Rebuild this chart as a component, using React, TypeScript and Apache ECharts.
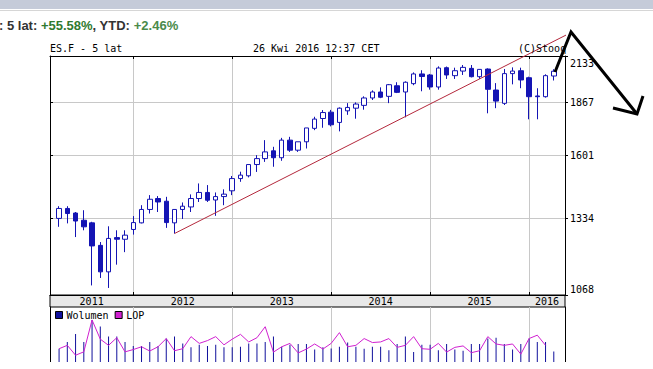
import React, { useEffect, useRef } from 'react';
import * as echarts from 'echarts';

// ---- data (monthly candles, ES.F, 5 years) ----
const months = [
  '2011-04', '2011-05', '2011-06', '2011-07', '2011-08', '2011-09', '2011-10', '2011-11', '2011-12',
  '2012-01', '2012-02', '2012-03', '2012-04', '2012-05', '2012-06', '2012-07', '2012-08', '2012-09', '2012-10', '2012-11', '2012-12',
  '2013-01', '2013-02', '2013-03', '2013-04', '2013-05', '2013-06', '2013-07', '2013-08', '2013-09', '2013-10', '2013-11', '2013-12',
  '2014-01', '2014-02', '2014-03', '2014-04', '2014-05', '2014-06', '2014-07', '2014-08', '2014-09', '2014-10', '2014-11', '2014-12',
  '2015-01', '2015-02', '2015-03', '2015-04', '2015-05', '2015-06', '2015-07', '2015-08', '2015-09', '2015-10', '2015-11', '2015-12',
  '2016-01', '2016-02', '2016-03', '2016-04',
];
const opens = [
  1333, 1372, 1354, 1326, 1316, 1233, 1142, 1261, 1255,
  1291, 1316, 1368, 1412, 1401, 1316, 1368, 1378, 1412, 1437, 1406, 1420,
  1444, 1496, 1508, 1558, 1585, 1621, 1589, 1672, 1624, 1664, 1730, 1780,
  1813, 1760, 1820, 1834, 1849, 1889, 1922, 1898, 1957, 1922, 1969, 2025,
  2019, 1950, 2062, 2015, 2042, 2058, 2009, 2054, 1933, 1860, 2027, 2044,
  2003, 1900, 1896, 2013,
];
const closes = [
  1372, 1352, 1323, 1301, 1231, 1142, 1258, 1255, 1270,
  1317, 1368, 1409, 1398, 1317, 1368, 1381, 1412, 1437, 1405, 1420, 1430,
  1496, 1511, 1558, 1585, 1616, 1589, 1672, 1624, 1664, 1732, 1777, 1811,
  1748, 1834, 1838, 1856, 1889, 1922, 1893, 1963, 1920, 1977, 2025, 2010,
  1950, 2060, 2019, 2044, 2064, 2009, 2052, 1937, 1872, 2027, 2042, 1990,
  1896, 1896, 2015, 2041,
];
const lows = [
  1301, 1314, 1263, 1288, 1098, 1122, 1090, 1166, 1209,
  1272, 1314, 1352, 1358, 1297, 1276, 1331, 1358, 1398, 1398, 1343, 1385,
  1426, 1482, 1501, 1525, 1570, 1548, 1575, 1616, 1616, 1632, 1721, 1733,
  1740, 1715, 1799, 1779, 1826, 1878, 1888, 1861, 1916, 1786, 1960, 1926,
  1935, 1935, 1996, 1996, 2019, 2005, 1996, 1807, 1834, 1851, 1965, 1943,
  1776, 1776, 1891, 1987,
];
const highs = [
  1381, 1381, 1358, 1365, 1320, 1245, 1303, 1288, 1288,
  1342, 1385, 1426, 1422, 1419, 1368, 1396, 1429, 1475, 1468, 1437, 1450,
  1507, 1526, 1558, 1601, 1672, 1640, 1683, 1688, 1664, 1732, 1789, 1824,
  1825, 1838, 1861, 1865, 1898, 1931, 1948, 1967, 1977, 1982, 2034, 2047,
  2025, 2070, 2069, 2062, 2078, 2078, 2053, 2058, 1972, 2054, 2064, 2062,
  2009, 1943, 2023, 2053,
];
// volume and open interest (LOP), relative units
const volume = [
  15.7, 23.7, 33, 23.7, 49.7, 42, 30, 30, 23.7,
  19, 19, 23.7, 19, 27.7, 30, 22, 17.3, 20.3, 19, 20.3, 17.3,
  17.3, 18, 22, 22, 23.7, 30, 18, 20.3, 21.3, 21.3, 14.7, 17.3,
  16, 18, 23, 18, 15.7, 18, 18, 14, 21.3, 30, 11.7, 20.3,
  20.3, 14, 21.3, 14.7, 13.3, 21.3, 21.3, 27.7, 28.7, 21.3, 14.7, 21.3,
  27.7, 23.7, 23.7, 12.3,
];
const lop = [
  15.7, 19.7, 8, 12, 49.7, 27, 19.7, 28.7, 12,
  14.7, 18, 13, 18, 27.7, 13.3, 15.7, 30, 22, 25.3, 30, 20.3,
  27, 32.7, 23.7, 28.7, 41.7, 11.7, 18, 22, 10.7, 15.3, 21.3, 15.3,
  22, 34.7, 18, 19.7, 27.7, 23, 23.7, 27.7, 17.3, 19.7, 30, 15.7,
  15, 22, 11.7, 17.3, 19, 11, 13.3, 30, 21.3, 19.7, 21.3, 9.3,
  27.7, 31.7, 19.7, null,
];
const priceTicks = [1068, 1334, 1601, 1867, 2133];
const yearLabels = ['2011', '2012', '2013', '2014', '2015', '2016'];
const trendStart: [string, number] = ['2012-06', 1276];
const trendEnd: [string, number] = ['2017-02', 2512];
const axisStart = 1.9; // month index at left edge (Jan 2011 = 0)
const axisEnd = 64.36; // month index at right edge

const monthIndex = (m: string) => {
  const [y, mo] = m.split('-').map(Number);
  return (y - 2011) * 12 + mo - 1;
};

const MONO = "'DejaVu Sans Mono', monospace";
const BLUE = '#1414b4';
const GRID = '#c8c8c8';

export default function App() {
  const ref = useRef<HTMLDivElement>(null);
  useEffect(() => {
    if (!ref.current) return;
    const chart = echarts.init(ref.current, undefined, { renderer: 'svg' });

    const yearStarts = yearLabels.slice(1).map((y) => monthIndex(`${y}-01`));
    const yearMids = yearLabels.map((y) => {
      const s = Math.max(monthIndex(`${y}-01`), axisStart);
      const e = Math.min(monthIndex(`${y}-01`) + 12, axisEnd);
      return (s + e) / 2;
    });
    const lnTicks = priceTicks.map((p) => Math.log(p));
    const yMin = Math.log(priceTicks[0]);
    const yMax = Math.log(priceTicks[priceTicks.length - 1]);

    const candles = months.map((m, i) => [
      monthIndex(m),
      Math.log(opens[i]),
      Math.log(closes[i]),
      Math.log(lows[i]),
      Math.log(highs[i]),
    ]);
    const volData = months.map((m, i) => [monthIndex(m), volume[i]]);
    const lopData = months
      .map((m, i) => [monthIndex(m), lop[i]])
      .filter((d) => d[1] !== null);
    const trendData = [
      [monthIndex(trendStart[0]), Math.log(trendStart[1])],
      [monthIndex(trendEnd[0]), Math.log(trendEnd[1])],
    ];

    const monoText = { fontFamily: MONO, fontSize: 10, color: '#000' };

    chart.setOption({
      animation: false,
      backgroundColor: '#ffffff',
      title: [
        {
          text: '{g|: 5 lat: }{v|+55.58%}{g|, YTD: }{w|+2.46%}',
          left: -1,
          top: 17,
          padding: 0,
          textStyle: {
            rich: {
              g: { fontFamily: 'Liberation Sans, Arial', fontSize: 13, color: '#333333', lineHeight: 16 },
              v: { fontFamily: 'Liberation Sans, Arial', fontSize: 13, color: '#2f7a2f', fontWeight: 'bold', lineHeight: 16 },
              w: { fontFamily: 'Liberation Sans, Arial', fontSize: 13, color: '#4a8a4a', lineHeight: 16 },
            },
          },
        },
        { text: 'ES.F - 5 lat', left: 50, top: 42, padding: 0, textStyle: { ...monoText, fontWeight: 'normal', lineHeight: 12 } },
        { text: '26 Kwi 2016 12:37 CET', left: 253, top: 42, padding: 0, textStyle: { ...monoText, fontWeight: 'normal', lineHeight: 12 } },
        { text: '(C)Stooq', left: 518, top: 42, padding: 0, textStyle: { ...monoText, fontWeight: 'normal', lineHeight: 12 } },
      ],
      legend: {
        data: ['Wolumen', 'LOP'],
        left: 55,
        top: 310,
        icon: 'rect',
        itemWidth: 7,
        itemHeight: 7,
        itemGap: 6,
        padding: 0,
        itemStyle: { borderColor: '#000', borderWidth: 1 },
        textStyle: { ...monoText, padding: [0, 0, 0, -1] },
      },
      grid: [
        { left: 50, top: 56, width: 515, height: 239 },
        { left: 50, top: 307, width: 515, height: 65 },
      ],
      xAxis: [
        {
          type: 'value', gridIndex: 0, position: 'bottom', min: axisStart, max: axisEnd,
          axisLine: { show: true, lineStyle: { color: '#000', width: 1 } },
          axisTick: { show: true, inside: true, length: 3, customValues: yearStarts, lineStyle: { color: '#000' } },
          axisLabel: {
            show: true, customValues: yearMids, margin: 1, ...monoText, lineHeight: 11,
            formatter: (v: number) => {
              const i = yearMids.findIndex((m) => Math.abs(m - v) < 1e-6);
              return i >= 0 ? yearLabels[i] : '';
            },
          },
          splitLine: { show: true, lineStyle: { color: GRID, width: 1 } },
        },
        {
          type: 'value', gridIndex: 0, position: 'top', min: axisStart, max: axisEnd,
          axisLine: { show: true, lineStyle: { color: '#000', width: 1 } },
          axisTick: { show: true, inside: true, length: 3, customValues: yearStarts, lineStyle: { color: '#000' } },
          axisLabel: { show: false },
          splitLine: { show: false },
        },
        {
          type: 'value', gridIndex: 1, position: 'top', min: axisStart, max: axisEnd,
          axisLine: { show: true, lineStyle: { color: '#000', width: 1 } },
          axisTick: { show: true, inside: true, length: 3, customValues: yearStarts, lineStyle: { color: '#000' } },
          axisLabel: { show: false },
          splitLine: { show: true, lineStyle: { color: GRID, width: 1 } },
        },
      ],
      yAxis: [
        {
          type: 'value', gridIndex: 0, position: 'right', min: yMin, max: yMax,
          axisLine: { show: true, lineStyle: { color: '#000', width: 1 } },
          axisTick: { show: true, inside: false, length: 3, customValues: lnTicks, lineStyle: { color: '#000' } },
          axisLabel: {
            show: true, customValues: lnTicks, margin: 5, ...monoText, align: 'left',
            formatter: (v: number) => {
              const i = lnTicks.findIndex((t) => Math.abs(t - v) < 1e-6);
              if (i < 0) return '';
              if (i === lnTicks.length - 1) return `{top|${priceTicks[i]}}`;
              if (i === 0) return `{bot|${priceTicks[i]}}`;
              return `${priceTicks[i]}`;
            },
            rich: {
              top: { fontFamily: MONO, fontSize: 10, color: '#000', padding: [14, 0, 0, 0] },
              bot: { fontFamily: MONO, fontSize: 10, color: '#000', padding: [0, 0, 12, 0] },
            },
          },
          splitLine: { show: true, lineStyle: { color: GRID, width: 1 } },
        },
        {
          type: 'value', gridIndex: 0, position: 'left', min: yMin, max: yMax,
          axisLine: { show: true, lineStyle: { color: '#000', width: 1 } },
          axisTick: { show: true, inside: true, length: 3, customValues: lnTicks, lineStyle: { color: '#000' } },
          axisLabel: { show: false },
          splitLine: { show: false },
        },
        {
          type: 'value', gridIndex: 1, position: 'left', min: 0, max: 65,
          axisLine: { show: true, lineStyle: { color: '#000', width: 1 } },
          axisTick: { show: false }, axisLabel: { show: false }, splitLine: { show: false },
        },
        {
          type: 'value', gridIndex: 1, position: 'right', min: 0, max: 65,
          axisLine: { show: true, lineStyle: { color: '#000', width: 1 } },
          axisTick: { show: false }, axisLabel: { show: false }, splitLine: { show: false },
        },
      ],
      series: [
        {
          type: 'candlestick',
          xAxisIndex: 0,
          yAxisIndex: 0,
          data: candles,
          encode: { x: 0, y: [1, 2, 3, 4] },
          barWidth: 5,
          itemStyle: {
            color: '#ffffff',
            color0: BLUE,
            borderColor: BLUE,
            borderColor0: BLUE,
            borderWidth: 1,
          },
          z: 3,
        },
        {
          type: 'line',
          xAxisIndex: 0,
          yAxisIndex: 0,
          data: trendData,
          clip: false,
          symbol: 'none',
          lineStyle: { color: '#b4283c', width: 1 },
          z: 4,
        },
        {
          name: 'Wolumen',
          type: 'bar',
          xAxisIndex: 2,
          yAxisIndex: 2,
          data: volData,
          barWidth: 1,
          itemStyle: { color: '#10109c' },
        },
        {
          name: 'LOP',
          type: 'line',
          xAxisIndex: 2,
          yAxisIndex: 3,
          data: lopData,
          symbol: 'none',
          lineStyle: { color: '#d020d0', width: 1 },
          itemStyle: { color: '#d020d0' },
        },
      ],
      graphic: [
        { type: 'rect', z: -1, shape: { x: 0, y: 0, width: 653, height: 9 }, style: { fill: '#c5cbd9' } },
        { type: 'rect', z: -1, shape: { x: 0, y: 10, width: 653, height: 1 }, style: { fill: '#d6d6d6' } },
        { type: 'rect', z: -1, shape: { x: 50, y: 295, width: 515, height: 12 }, style: { fill: '#e8e8e8', stroke: '#000', lineWidth: 1 } },
        {
          type: 'polyline', z: 100,
          shape: { points: [[555, 72], [571, 32], [637, 114]] },
          style: { stroke: '#000', lineWidth: 3, fill: null, lineJoin: 'miter' },
        },
        {
          type: 'polyline', z: 100,
          shape: { points: [[613, 108], [637, 114], [643, 96]] },
          style: { stroke: '#000', lineWidth: 3, fill: null },
        },
      ],
    });

    return () => chart.dispose();
  }, []);

  return (
    <div
      ref={ref}
      style={{ position: 'absolute', left: 0, top: 0, width: 653, height: 362, overflow: 'hidden' }}
    />
  );
}
